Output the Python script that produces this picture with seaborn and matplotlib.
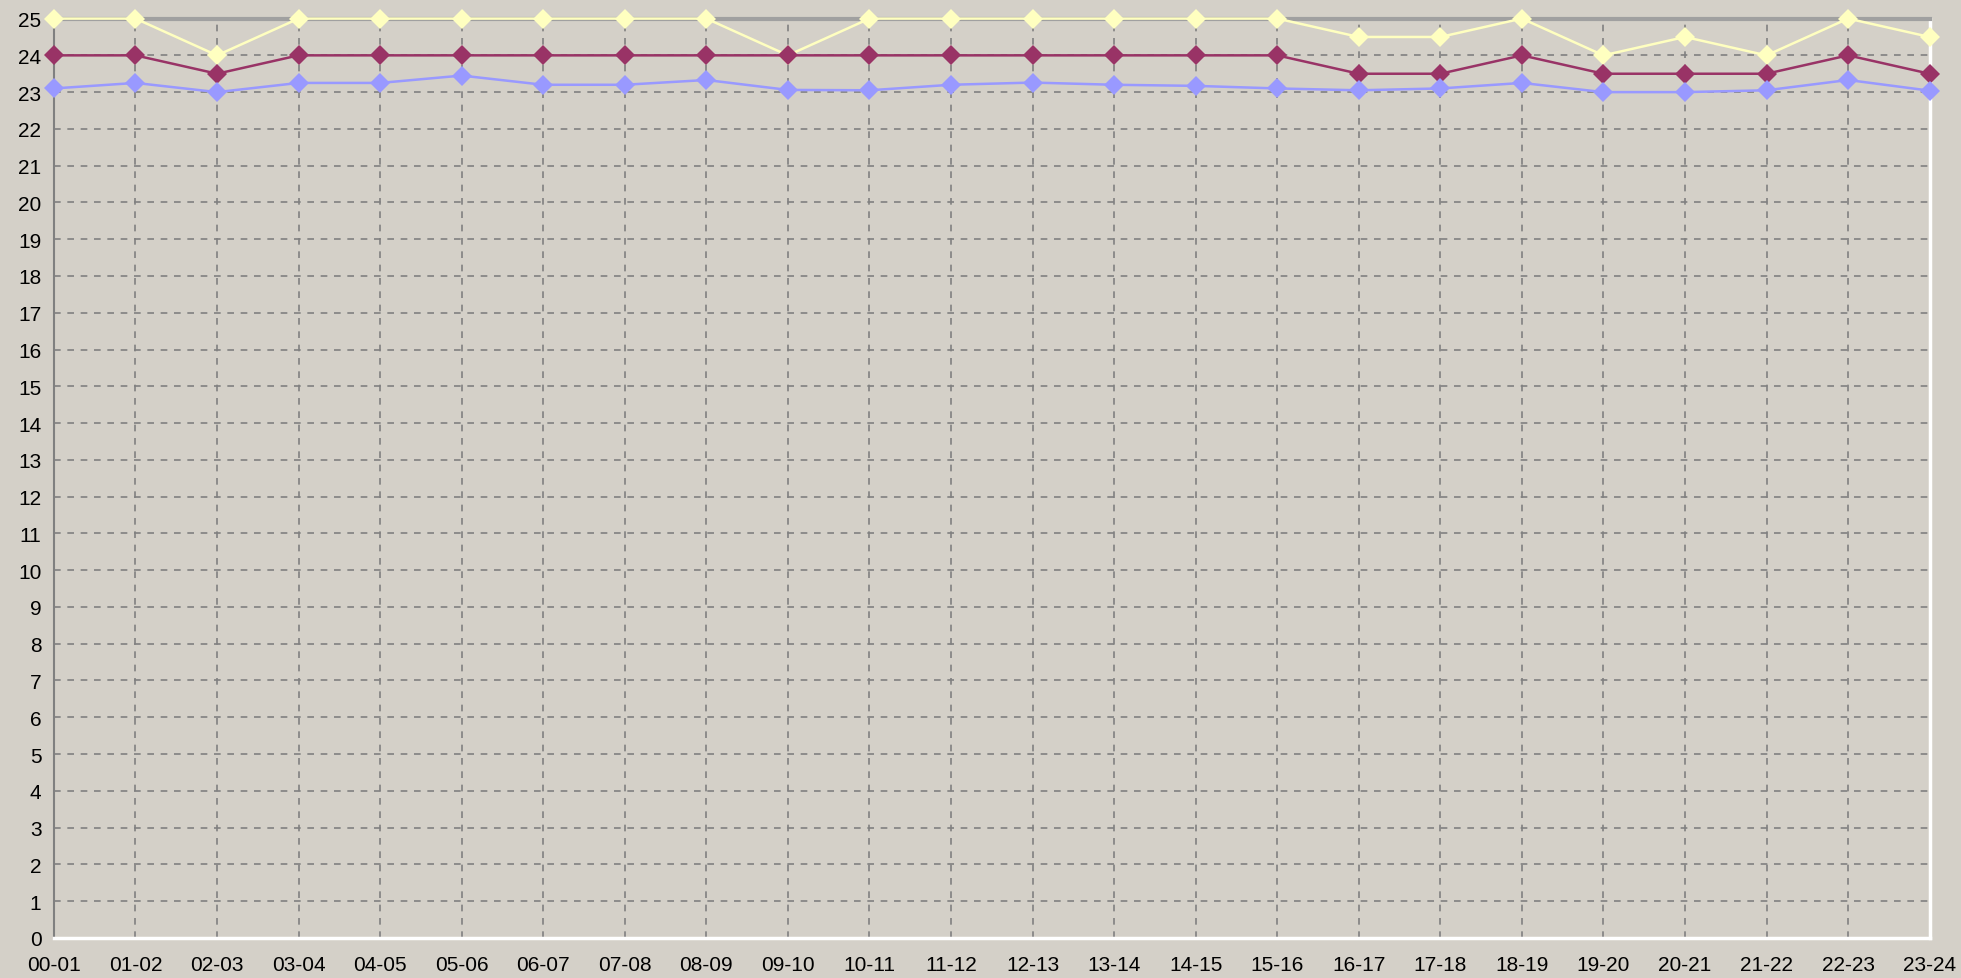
import pandas as pd
import matplotlib
matplotlib.use('Agg')
import matplotlib.pyplot as plt
import seaborn as sns

# Hour slots along the x axis
hours = ['00-01', '01-02', '02-03', '03-04', '04-05', '05-06', '06-07', '07-08',
         '08-09', '09-10', '10-11', '11-12', '12-13', '13-14', '14-15', '15-16',
         '16-17', '17-18', '18-19', '19-20', '20-21', '21-22', '22-23', '23-24']

# Three series
series_max = [25, 25, 24, 25, 25, 25, 25, 25, 25, 24, 25, 25,
              25, 25, 25, 25, 24.5, 24.5, 25, 24, 24.5, 24, 25, 24.5]
series_avg = [24, 24, 23.5, 24, 24, 24, 24, 24, 24, 24, 24, 24,
              24, 24, 24, 24, 23.5, 23.5, 24, 23.5, 23.5, 23.5, 24, 23.5]
series_min = [23.1, 23.25, 23.0, 23.25, 23.25, 23.45, 23.2, 23.2, 23.33, 23.06, 23.05, 23.2,
              23.26, 23.2, 23.17, 23.1, 23.05, 23.1, 23.25, 23.0, 23.0, 23.05, 23.33, 23.04]

df = pd.DataFrame({
    'hour': hours * 3,
    'value': series_max + series_avg + series_min,
    'series': ['max'] * 24 + ['avg'] * 24 + ['min'] * 24,
})

bg = '#D4D0C8'
palette = {'max': '#FFFFC0', 'avg': '#993366', 'min': '#9999FF'}

sns.set_style('white')
plt.rcParams['font.family'] = ['Liberation Sans', 'DejaVu Sans']

fig = plt.figure(figsize=(19.61, 9.79), dpi=100, facecolor=bg)
ax = fig.add_axes([0.0275, 0.041, 0.9565, 0.939])
ax.set_facecolor(bg)

sns.lineplot(data=df, x='hour', y='value', hue='series', palette=palette,
             hue_order=['max', 'avg', 'min'], marker='D', markersize=10.5,
             markeredgewidth=0, linewidth=1.8, sort=False, legend=False,
             clip_on=False, ax=ax, zorder=3)

ax.set_xlim(0, len(hours) - 1)
ax.set_ylim(0, 25)
ax.set_yticks(range(0, 26))
ax.set_xticks(range(len(hours)))
ax.set_xticklabels(hours)
ax.set_xlabel('')
ax.set_ylabel('')

ax.grid(True, color='#808080', linestyle=(0, (4, 4)), linewidth=1.2)
ax.set_axisbelow(True)
ax.tick_params(axis='both', labelsize=15, colors='#808080', labelcolor='black',
               length=6, width=1.2, direction='out', pad=3)
ax.tick_params(axis='x', pad=6)

ax.spines['left'].set_color('#808080')
ax.spines['left'].set_linewidth(1.5)
ax.spines['top'].set_color('#A0A0A0')
ax.spines['top'].set_linewidth(3)
ax.spines['bottom'].set_color('white')
ax.spines['bottom'].set_linewidth(2.5)
ax.spines['right'].set_color('white')
ax.spines['right'].set_linewidth(2.5)

fig.savefig('out.png', dpi=100, facecolor=bg)
